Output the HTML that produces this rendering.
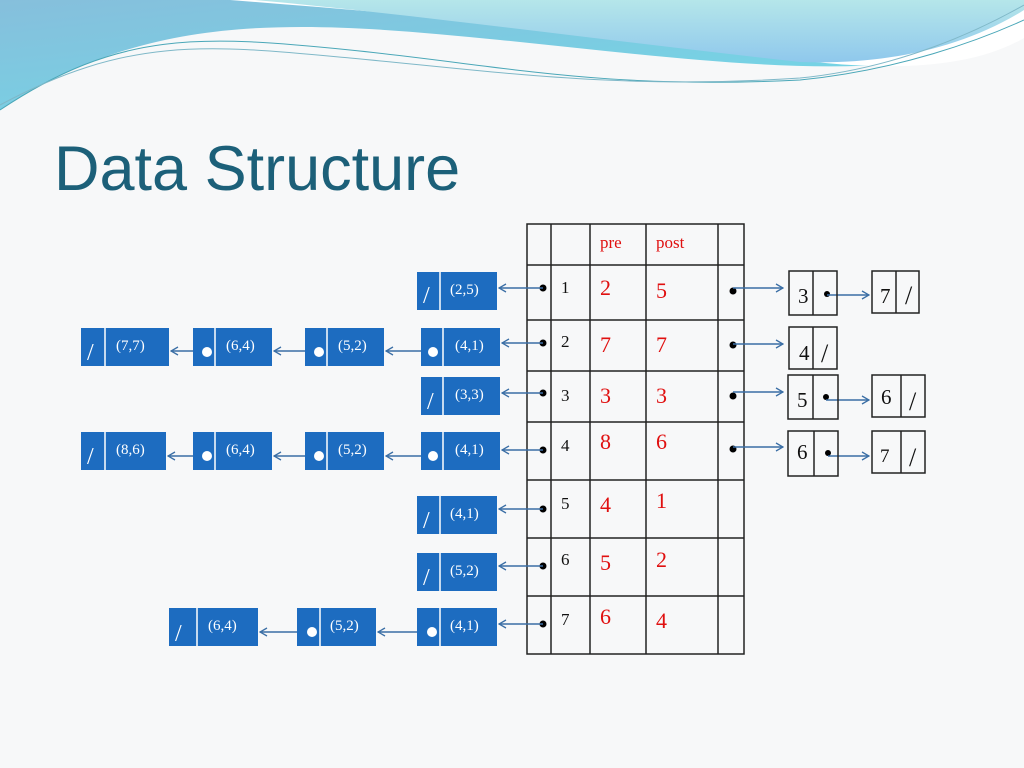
<!DOCTYPE html>
<html><head><meta charset="utf-8"><style>html,body{margin:0;padding:0;background:#f7f8f9}svg{display:block}</style></head><body>
<svg width="1024" height="768" viewBox="0 0 1024 768" xmlns="http://www.w3.org/2000/svg" font-family="Liberation Serif, serif">
<defs>
<linearGradient id="g1" x1="0" y1="0" x2="1" y2="1"><stop offset="0" stop-color="#86bfdc"/><stop offset="1" stop-color="#6fdbe8"/></linearGradient>
<linearGradient id="g2" x1="0" y1="0" x2="0" y2="1"><stop offset="0" stop-color="#b5e6ea"/><stop offset="1" stop-color="#8fc8ec"/></linearGradient>
<marker id="ar" markerWidth="10" markerHeight="10" refX="9" refY="5" orient="auto" markerUnits="userSpaceOnUse"><path d="M2,1 L9,5 L2,9" fill="none" stroke="#3a6ea5" stroke-width="1.3"/></marker>
</defs>
<rect width="1024" height="768" fill="#f7f8f9"/>
<path d="M0,0 H1024 V35 C900,90 700,60 500,40 C300,20 150,10 0,110 Z" fill="url(#g1)"/>
<path d="M230,0 H1024 V38 C960,75 860,70 760,55 C600,30 420,15 230,0 Z" fill="#ffffff"/>
<path d="M255,0 H1024 V10 C960,50 880,65 800,62 C600,40 420,15 255,0 Z" fill="url(#g2)"/>
<path d="M0,110 C120,30 200,35 350,50 C500,65 600,90 800,80 C900,70 980,40 1024,20" fill="none" stroke="#4aa7b8" stroke-width="1"/>
<path d="M0,105 C130,35 210,45 350,58 C500,72 620,90 800,78 C900,68 980,30 1024,5" fill="none" stroke="#7fb8c8" stroke-width="1"/>
<text x="54" y="190" font-family="Liberation Sans, sans-serif" font-size="63" fill="#1c6079">Data Structure</text>
<!-- table -->
<g stroke="#222" stroke-width="1.5" fill="none">
<rect x="527" y="224" width="217" height="430"/>
<line x1="551" y1="224" x2="551" y2="654"/><line x1="590" y1="224" x2="590" y2="654"/><line x1="646" y1="224" x2="646" y2="654"/><line x1="718" y1="224" x2="718" y2="654"/>
<line x1="527" y1="265" x2="744" y2="265"/><line x1="527" y1="320" x2="744" y2="320"/><line x1="527" y1="371" x2="744" y2="371"/><line x1="527" y1="422" x2="744" y2="422"/><line x1="527" y1="480" x2="744" y2="480"/><line x1="527" y1="538" x2="744" y2="538"/><line x1="527" y1="596" x2="744" y2="596"/>
</g>
<g fill="#e01010" font-size="17"><text x="600" y="248">pre</text><text x="656" y="248">post</text></g>
<g fill="#111" font-size="17"><text x="561" y="293">1</text><text x="561" y="347">2</text><text x="561" y="401">3</text><text x="561" y="451">4</text><text x="561" y="509">5</text><text x="561" y="565">6</text><text x="561" y="625">7</text></g>
<g fill="#e01010" font-size="22">
<text x="600" y="295">2</text><text x="656" y="298">5</text>
<text x="600" y="352">7</text><text x="656" y="352">7</text>
<text x="600" y="403">3</text><text x="656" y="403">3</text>
<text x="600" y="449">8</text><text x="656" y="449">6</text>
<text x="600" y="512">4</text><text x="656" y="508">1</text>
<text x="600" y="570">5</text><text x="656" y="567">2</text>
<text x="600" y="624">6</text><text x="656" y="628">4</text>
</g>
<g fill="#000"><circle cx="543" cy="288" r="3.5"/><circle cx="543" cy="343" r="3.5"/><circle cx="543" cy="393" r="3.5"/><circle cx="543" cy="450" r="3.5"/><circle cx="543" cy="509" r="3.5"/><circle cx="543" cy="566" r="3.5"/><circle cx="543" cy="624" r="3.5"/>
<circle cx="733" cy="291" r="3.5"/><circle cx="733" cy="345" r="3.5"/><circle cx="733" cy="396" r="3.5"/><circle cx="733" cy="449" r="3.5"/>
<circle cx="827" cy="294" r="3"/><circle cx="826" cy="397" r="3"/><circle cx="828" cy="453" r="3"/></g>
<g stroke="#3a6ea5" stroke-width="1.5" fill="none" marker-end="url(#ar)">
<line x1="543" y1="288" x2="499" y2="288"/>
<line x1="543" y1="343" x2="502" y2="343"/>
<line x1="543" y1="393" x2="502" y2="393"/>
<line x1="543" y1="450" x2="502" y2="450"/>
<line x1="543" y1="509" x2="499" y2="509"/>
<line x1="543" y1="566" x2="499" y2="566"/>
<line x1="543" y1="624" x2="499" y2="624"/>
<line x1="432" y1="351" x2="386" y2="351"/>
<line x1="318" y1="351" x2="274" y2="351"/>
<line x1="206" y1="351" x2="171" y2="351"/>
<line x1="432" y1="456" x2="386" y2="456"/>
<line x1="318" y1="456" x2="274" y2="456"/>
<line x1="206" y1="456" x2="168" y2="456"/>
<line x1="430" y1="632" x2="378" y2="632"/>
<line x1="310" y1="632" x2="260" y2="632"/>
<line x1="733" y1="288" x2="783" y2="288"/>
<line x1="733" y1="344" x2="783" y2="344"/>
<line x1="733" y1="392" x2="783" y2="392"/>
<line x1="733" y1="447" x2="783" y2="447"/>
<line x1="827" y1="295" x2="869" y2="295"/>
<line x1="826" y1="400" x2="869" y2="400"/>
<line x1="828" y1="456" x2="869" y2="456"/>
</g>
<g fill="#1d6cc0">
<rect x="417" y="272" width="80" height="38"/><rect x="421" y="328" width="79" height="38"/><rect x="305" y="328" width="79" height="38"/><rect x="193" y="328" width="79" height="38"/><rect x="81" y="328" width="88" height="38"/>
<rect x="421" y="377" width="79" height="38"/>
<rect x="421" y="432" width="79" height="38"/><rect x="305" y="432" width="79" height="38"/><rect x="193" y="432" width="79" height="38"/><rect x="81" y="432" width="85" height="38"/>
<rect x="417" y="496" width="80" height="38"/><rect x="417" y="553" width="80" height="38"/>
<rect x="417" y="608" width="80" height="38"/><rect x="297" y="608" width="79" height="38"/><rect x="169" y="608" width="89" height="38"/>
</g>
<g stroke="#fff" stroke-width="1.5">
<line x1="440" y1="272" x2="440" y2="310"/><line x1="443" y1="328" x2="443" y2="366"/><line x1="327" y1="328" x2="327" y2="366"/><line x1="215" y1="328" x2="215" y2="366"/><line x1="105" y1="328" x2="105" y2="366"/>
<line x1="443" y1="377" x2="443" y2="415"/>
<line x1="443" y1="432" x2="443" y2="470"/><line x1="327" y1="432" x2="327" y2="470"/><line x1="215" y1="432" x2="215" y2="470"/><line x1="105" y1="432" x2="105" y2="470"/>
<line x1="440" y1="496" x2="440" y2="534"/><line x1="440" y1="553" x2="440" y2="591"/>
<line x1="440" y1="608" x2="440" y2="646"/><line x1="320" y1="608" x2="320" y2="646"/><line x1="197" y1="608" x2="197" y2="646"/>
</g>
<g fill="#fff"><circle cx="433" cy="352" r="5"/><circle cx="319" cy="352" r="5"/><circle cx="207" cy="352" r="5"/><circle cx="433" cy="456" r="5"/><circle cx="319" cy="456" r="5"/><circle cx="207" cy="456" r="5"/><circle cx="432" cy="632" r="5"/><circle cx="312" cy="632" r="5"/></g>
<g fill="#fff" font-size="24"><text x="423" y="303">/</text><text x="87" y="360">/</text><text x="427" y="409">/</text><text x="87" y="464">/</text><text x="423" y="528">/</text><text x="423" y="585">/</text><text x="175" y="641">/</text></g>
<g fill="#fff" font-size="15">
<text x="450" y="294">(2,5)</text><text x="455" y="350">(4,1)</text><text x="338" y="350">(5,2)</text><text x="226" y="350">(6,4)</text><text x="116" y="350">(7,7)</text>
<text x="455" y="399">(3,3)</text>
<text x="455" y="454">(4,1)</text><text x="338" y="454">(5,2)</text><text x="226" y="454">(6,4)</text><text x="116" y="454">(8,6)</text>
<text x="450" y="518">(4,1)</text><text x="450" y="575">(5,2)</text>
<text x="450" y="630">(4,1)</text><text x="330" y="630">(5,2)</text><text x="208" y="630">(6,4)</text>
</g>
<g stroke="#222" stroke-width="1.5" fill="none">
<rect x="789" y="271" width="48" height="44"/><line x1="813" y1="271" x2="813" y2="315"/>
<rect x="872" y="271" width="47" height="42"/><line x1="896" y1="271" x2="896" y2="313"/>
<rect x="789" y="327" width="48" height="42"/><line x1="813" y1="327" x2="813" y2="369"/>
<rect x="788" y="375" width="50" height="44"/><line x1="813" y1="375" x2="813" y2="419"/>
<rect x="872" y="375" width="53" height="42"/><line x1="901" y1="375" x2="901" y2="417"/>
<rect x="788" y="431" width="50" height="45"/><line x1="814" y1="431" x2="814" y2="476"/>
<rect x="872" y="431" width="53" height="42"/><line x1="901" y1="431" x2="901" y2="473"/>
</g>
<g fill="#111" font-size="21">
<text x="798" y="303">3</text><text x="880" y="303">7</text>
<text x="799" y="360">4</text>
<text x="797" y="407">5</text><text x="881" y="404">6</text>
<text x="797" y="459">6</text><text x="880" y="462" font-size="19">7</text>
</g>
<g fill="#111" font-size="26"><text x="905" y="304">/</text><text x="821" y="362">/</text><text x="909" y="410">/</text><text x="909" y="466">/</text></g>
</svg>
</body></html>
